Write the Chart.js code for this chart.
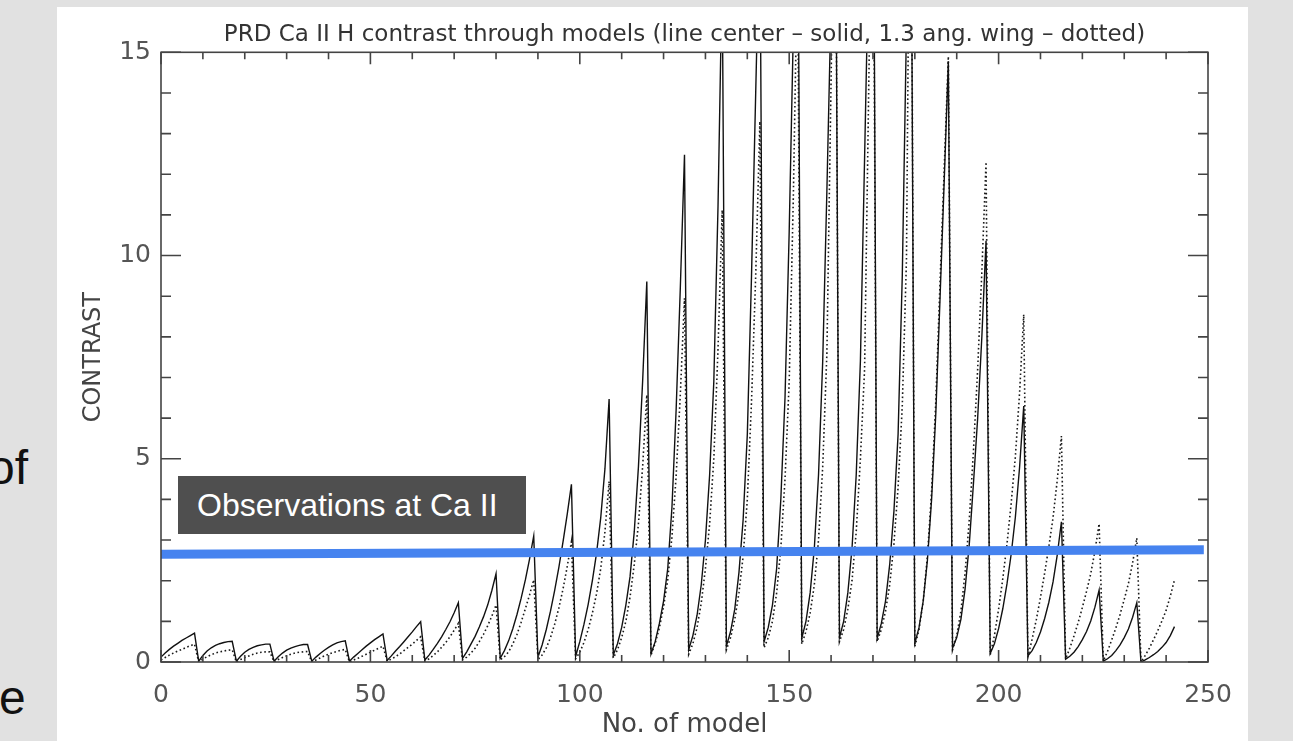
<!DOCTYPE html>
<html>
<head>
<meta charset="utf-8">
<title>PRD Ca II H contrast through models</title>
<script src="https://cdn.jsdelivr.net/npm/chart.js@4.4.1/dist/chart.umd.min.js"></script>
<style>
  html, body { margin: 0; padding: 0; }
  body {
    width: 1293px; height: 741px; position: relative; overflow: hidden;
    background: #e1e1e1; font-family: "Liberation Sans", Arial, sans-serif;
  }
  #panel { position: absolute; left: 57px; top: 7px; width: 1191px; height: 734px; background: #fff; }
  #chartBox { position: absolute; left: 0; top: 0; width: 1293px; height: 741px; }
  .slideText { position: absolute; font-size: 48px; line-height: 48px; color: #111; }
  #obsLabel {
    position: absolute; left: 178px; top: 476px; width: 348px; height: 58px;
    box-sizing: border-box; padding-left: 19px;
    background: #4f4f4f; color: #fff; font-size: 32px; line-height: 58px;
  }
</style>
</head>
<body>
<div id="panel"></div>
<div class="slideText" style="left:-12px; top:444px;">of</div>
<div class="slideText" style="left:-1px; top:674px;">e</div>
<div id="chartBox"><canvas id="contrastChart" width="1293" height="741"></canvas></div>
<div id="obsLabel">Observations at Ca II</div>
<script>
// model number = index into the series
const models = Array.from({ length: 243 }, (_, i) => i);

// line center contrast (solid), 9 models per step
const lineCenter = [
  0.12, 0.22, 0.31, 0.39, 0.46, 0.53, 0.59, 0.65, 0.71,
  0.02, 0.16, 0.27, 0.35, 0.41, 0.45, 0.48, 0.50, 0.51,
  0.02, 0.14, 0.24, 0.31, 0.36, 0.40, 0.42, 0.44, 0.44,
  0.02, 0.13, 0.22, 0.29, 0.34, 0.38, 0.41, 0.43, 0.43,
  0.02, 0.12, 0.21, 0.29, 0.36, 0.42, 0.47, 0.50, 0.52,
  0.02, 0.12, 0.21, 0.30, 0.39, 0.47, 0.55, 0.62, 0.69,
  0.04, 0.15, 0.27, 0.38, 0.50, 0.62, 0.74, 0.87, 0.99,
  0.05, 0.17, 0.31, 0.46, 0.62, 0.80, 0.99, 1.21, 1.46,
  0.09, 0.25, 0.44, 0.63, 0.86, 1.11, 1.40, 1.76, 2.17,
  0.09, 0.28, 0.52, 0.82, 1.17, 1.57, 2.02, 2.53, 3.10,
  0.12, 0.42, 0.80, 1.25, 1.76, 2.33, 2.96, 3.64, 4.37,
  0.14, 0.50, 0.93, 1.42, 2.00, 2.68, 3.55, 4.75, 6.47,
  0.17, 0.45, 0.85, 1.40, 2.10, 3.20, 4.80, 6.90, 9.36,
  0.20, 0.50, 0.95, 1.50, 2.30, 3.80, 6.20, 9.20, 12.48,
  0.30, 0.65, 1.15, 1.90, 3.00, 4.60, 6.90, 11.20, 17.00,
  0.39, 0.75, 1.30, 2.20, 3.50, 5.60, 9.50, 14.00, 18.50,
  0.50, 0.85, 1.40, 2.30, 4.00, 6.50, 10.60, 15.60, 20.60,
  0.58, 1.00, 1.70, 2.80, 4.60, 7.40, 11.60, 16.20, 21.00,
  0.60, 1.00, 1.70, 2.80, 4.60, 7.40, 12.40, 17.50, 22.60,
  0.58, 0.95, 1.50, 2.40, 3.70, 5.60, 9.50, 15.60, 21.70,
  0.46, 0.85, 1.50, 2.50, 4.00, 6.10, 8.90, 11.80, 14.77,
  0.34, 0.60, 1.05, 1.80, 2.90, 4.40, 6.00, 8.00, 10.36,
  0.21, 0.45, 0.82, 1.31, 1.92, 2.65, 3.56, 4.78, 6.30,
  0.15, 0.28, 0.48, 0.74, 1.07, 1.47, 1.97, 2.63, 3.45,
  0.07, 0.14, 0.24, 0.38, 0.55, 0.75, 1.01, 1.35, 1.77,
  0.02, 0.08, 0.16, 0.28, 0.42, 0.60, 0.81, 1.10, 1.46,
  0.00, 0.05, 0.11, 0.18, 0.26, 0.36, 0.48, 0.65, 0.87
];

// 1.3 ang. wing contrast (dotted)
const wing = [
  0.05, 0.11, 0.17, 0.22, 0.27, 0.31, 0.36, 0.40, 0.44,
  0.00, 0.07, 0.13, 0.18, 0.22, 0.25, 0.27, 0.29, 0.30,
  0.00, 0.06, 0.11, 0.15, 0.19, 0.22, 0.24, 0.25, 0.25,
  0.00, 0.06, 0.11, 0.15, 0.19, 0.22, 0.24, 0.25, 0.26,
  0.00, 0.05, 0.10, 0.15, 0.19, 0.23, 0.26, 0.29, 0.31,
  0.00, 0.05, 0.09, 0.14, 0.19, 0.24, 0.29, 0.34, 0.39,
  0.02, 0.07, 0.13, 0.20, 0.28, 0.36, 0.44, 0.53, 0.62,
  0.02, 0.08, 0.16, 0.25, 0.36, 0.48, 0.62, 0.78, 0.95,
  0.05, 0.12, 0.22, 0.34, 0.50, 0.68, 0.89, 1.13, 1.40,
  0.05, 0.13, 0.25, 0.44, 0.68, 0.98, 1.31, 1.65, 2.02,
  0.06, 0.17, 0.35, 0.60, 0.93, 1.33, 1.80, 2.35, 2.96,
  0.08, 0.24, 0.48, 0.80, 1.20, 1.68, 2.30, 3.20, 4.44,
  0.10, 0.30, 0.60, 1.00, 1.60, 2.40, 3.40, 4.80, 6.57,
  0.17, 0.46, 0.84, 1.36, 2.03, 3.08, 4.57, 6.58, 8.95,
  0.19, 0.45, 0.85, 1.45, 2.30, 3.40, 5.00, 7.70, 11.12,
  0.30, 0.60, 1.05, 1.70, 2.60, 4.00, 6.40, 9.50, 13.30,
  0.35, 0.60, 1.00, 1.70, 2.80, 4.50, 6.90, 11.50, 17.50,
  0.44, 0.75, 1.20, 1.90, 3.00, 4.80, 7.60, 14.30, 21.00,
  0.50, 0.80, 1.30, 2.00, 3.20, 5.00, 7.20, 14.20, 21.00,
  0.50, 0.80, 1.25, 1.90, 2.90, 4.30, 6.30, 9.90, 22.60,
  0.38, 0.80, 1.50, 2.60, 4.20, 6.40, 9.30, 12.10, 14.90,
  0.30, 0.65, 1.25, 2.20, 3.50, 5.20, 7.20, 9.60, 12.30,
  0.18, 0.65, 1.30, 2.05, 2.90, 3.90, 5.05, 6.60, 8.55,
  0.12, 0.56, 1.04, 1.59, 2.19, 2.84, 3.55, 4.47, 5.56,
  0.07, 0.34, 0.64, 0.97, 1.34, 1.74, 2.17, 2.73, 3.40,
  0.02, 0.26, 0.54, 0.84, 1.17, 1.54, 1.93, 2.44, 3.05,
  0.00, 0.16, 0.34, 0.55, 0.77, 1.01, 1.27, 1.62, 2.02
];

// observed Ca II contrast (blue bar)
const obsModels = [0, 249];
const obsContrast = [2.65, 2.76];

const xTicks = [0, 50, 100, 150, 200, 250];
const yTicks = [0, 5, 10, 15];

// IDL style box with inward ticks on all four sides
const idlFrame = {
  id: 'idlFrame',
  afterDatasetsDraw(chart) {
    const { ctx, chartArea: a, scales: { x, y } } = chart;
    ctx.save();
    ctx.strokeStyle = '#444';
    ctx.lineWidth = 1.6;
    ctx.strokeRect(a.left, a.top, a.right - a.left, a.bottom - a.top);
    ctx.beginPath();
    for (let v = 0; v <= 250; v += 10) {
      const px = x.getPixelForValue(v);
      const len = v % 50 === 0 ? 12 : 7;
      ctx.moveTo(px, a.bottom); ctx.lineTo(px, a.bottom - len);
      ctx.moveTo(px, a.top); ctx.lineTo(px, a.top + len);
    }
    for (let v = 0; v <= 15; v += 1) {
      const py = y.getPixelForValue(v);
      const len = v % 5 === 0 ? 20 : 10;
      ctx.moveTo(a.left, py); ctx.lineTo(a.left + len, py);
      ctx.moveTo(a.right, py); ctx.lineTo(a.right - len, py);
    }
    ctx.stroke();
    ctx.restore();
  }
};

const tickFont = { family: 'DejaVu Sans', size: 25 };

new Chart(document.getElementById('contrastChart'), {
  type: 'line',
  data: {
    datasets: [
      {
        label: 'Observations at Ca II',
        data: obsModels.map((m, i) => ({ x: m, y: obsContrast[i] })),
        borderColor: '#4683ef',
        borderWidth: 9,
        borderCapStyle: 'butt',
        pointRadius: 0,
        order: 0
      },
      {
        label: 'line center',
        data: models.map((m, i) => ({ x: m, y: lineCenter[i] })),
        borderColor: '#111',
        borderWidth: 1.4,
        pointRadius: 0,
        order: 1
      },
      {
        label: '1.3 ang. wing',
        data: models.map((m, i) => ({ x: m, y: wing[i] })),
        borderColor: '#1a1a1a',
        borderWidth: 1.6,
        borderDash: [1.6, 2.6],
        pointRadius: 0,
        order: 2
      }
    ]
  },
  options: {
    responsive: false,
    animation: false,
    layout: { padding: { left: 70, right: 85, top: 0, bottom: 0 } },
    plugins: {
      legend: { display: false },
      tooltip: { enabled: false },
      title: {
        display: true,
        text: 'PRD Ca II H contrast through models (line center \u2013 solid, 1.3 ang. wing \u2013 dotted)',
        fullSize: false,
        color: '#333',
        font: { family: 'DejaVu Sans', size: 23, weight: 'normal', lineHeight: 1.1 },
        padding: { top: 22, bottom: 5 }
      }
    },
    scales: {
      x: {
        type: 'linear',
        min: 0,
        max: 250,
        grid: { display: false, drawTicks: false },
        border: { display: false },
        afterBuildTicks: s => { s.ticks = xTicks.map(v => ({ value: v })); },
        ticks: { autoSkip: false, maxRotation: 0, padding: 18, color: '#555', font: tickFont },
        title: {
          display: true, text: 'No. of model', color: '#444',
          font: { family: 'DejaVu Sans', size: 26 }, padding: { top: 0, bottom: 0 }
        },
        afterFit: s => { s.height = 79; }
      },
      y: {
        min: 0,
        max: 15,
        grid: { display: false, drawTicks: false },
        border: { display: false },
        afterBuildTicks: s => { s.ticks = yTicks.map(v => ({ value: v })); },
        ticks: { padding: 10, color: '#555', font: tickFont },
        title: {
          display: true, text: 'CONTRAST', color: '#444',
          font: { family: 'DejaVu Sans', size: 24 }, padding: { top: 9, bottom: 0 }
        },
        afterFit: s => { s.width = 91; }
      }
    }
  },
  plugins: [idlFrame]
});
</script>
</body>
</html>
